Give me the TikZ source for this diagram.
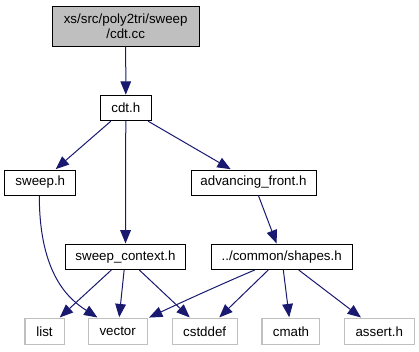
\documentclass[tikz,border=0pt]{standalone}
\usepackage{fontspec}
\setmainfont{Liberation Sans}
\usetikzlibrary{arrows.meta,calc}
\definecolor{edgeblue}{HTML}{191970}
\definecolor{rootfill}{HTML}{BFBFBF}
\definecolor{sysframe}{HTML}{BFBFBF}
\begin{document}
\begin{tikzpicture}[x=0.75pt,y=-0.75pt,
  every node/.style={inner sep=0pt,font=\fontsize{10pt}{11.5pt}\selectfont},
  filebox/.style={draw=black,line width=0.75pt,fill=white,minimum height=18.75pt,minimum width=#1},
  rootbox/.style={draw=black,line width=0.75pt,fill=rootfill,minimum height=30pt,minimum width=110.25pt,align=center},
  sysbox/.style={draw=sysframe,line width=0.75pt,fill=white,minimum height=19.8pt,minimum width=#1},
  dep/.style={draw=edgeblue,line width=0.75pt,-{Triangle[length=10pt,width=8pt]},shorten >=0.4pt}]
\useasboundingbox (0,0) rectangle (419,351);

% source file and the headers it pulls in
\node[rootbox] (root) at (125.7,26) {xs/src/poly2tri/sweep\\/cdt.cc};
\node[filebox=38.25pt] (cdt) at (125.8,108.2) {cdt.h};
\node[filebox=53.25pt] (sweep) at (40.3,182.5) {sweep.h};
\node[filebox=93.75pt] (front) at (253.5,182.5) {advancing\_front.h};
\node[filebox=90.3pt] (ctx) at (125.5,257) {sweep\_context.h};
\node[filebox=106pt] (shapes) at (281.7,257) {../common/shapes.h};

% standard library headers
\node[sysbox=29.25pt] (list) at (44.5,331.5) {list};
\node[sysbox=44pt] (vector) at (117.7,331.5) {vector};
\node[sysbox=49pt] (cstddef) at (204.7,331.5) {cstddef};
\node[sysbox=43.5pt] (cmath) at (291,331.5) {cmath};
\node[sysbox=52.5pt] (assert) at (379.3,331.5) {assert.h};

% include edges
\draw[dep] (root) -- (cdt);
\draw[dep] (cdt) -- (sweep);
\draw[dep] (cdt) -- (front);
\draw[dep] (cdt) -- (ctx);
\draw[dep] (front) -- (shapes);
\draw[dep] ($(sweep.south)+(-1,0)$) .. controls ($(sweep.south)+(-1,80)$) and ($(vector.north west)+(-18,-18)$) .. ($(vector.north west)+(10,0)$);
\draw[dep] (ctx) -- (list);
\draw[dep] (ctx) -- (vector);
\draw[dep] (ctx) -- (cstddef);
\draw[dep] ($(shapes.south)+(-27,0)$) .. controls ($(shapes.south)+(-60,14)$) and ($(vector.north east)+(35,-16)$) .. ($(vector.north east)+(1,0)$);
\draw[dep] (shapes) -- (cstddef);
\draw[dep] (shapes) -- (cmath);
\draw[dep] (shapes) -- (assert);
\end{tikzpicture}
\end{document}
